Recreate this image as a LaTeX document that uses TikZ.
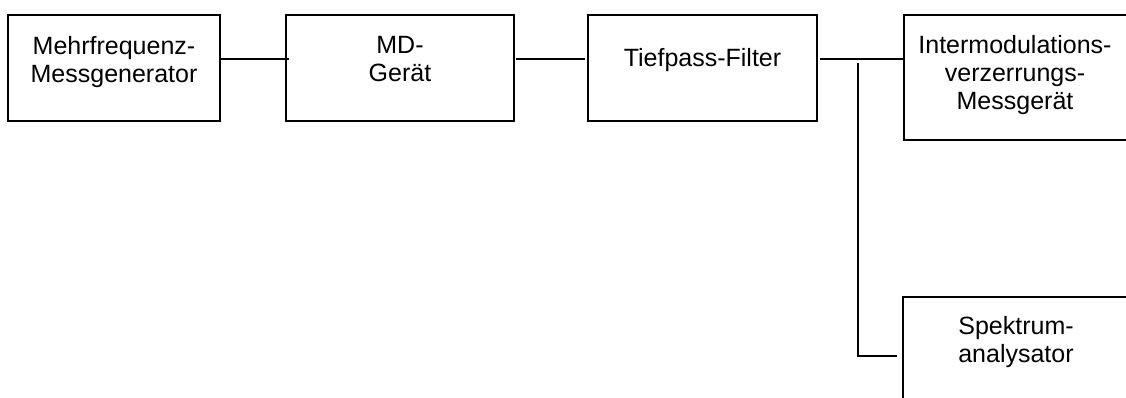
\documentclass[tikz,border=0pt]{standalone}
\usepackage{fontspec}
\setmainfont{Liberation Sans}
\begin{document}
\begin{tikzpicture}[x=1pt,y=-1pt,
  box/.style={draw, line width=1.8pt, inner sep=0pt, outer sep=0pt, anchor=north west},
  txt/.style={font=\fontsize{25}{28}\selectfont, align=center, inner sep=0pt, anchor=north},
  wire/.style={line width=1.3pt}]
\useasboundingbox (0,0) rectangle (1126,398);
\clip (0,0) rectangle (1126,398);
% boxes
\node[box, minimum width=212pt, minimum height=106pt] (b1) at (8,15) {};
\node[box, minimum width=228pt, minimum height=106pt] (b2) at (286,15) {};
\node[box, minimum width=229pt, minimum height=106pt] (b3) at (588,15) {};
\node[box, minimum width=224pt, minimum height=125pt] (b4) at (904,15) {};
\node[box, minimum width=224pt, minimum height=130pt] (b5) at (903,297) {};
% texts
\node[txt] (t1) at (114,36) {Mehrfrequenz-\\Messgenerator};
\node[txt] (t2) at (400,36) {MD-\\Gerät};
\node[txt] (t3) at (702.5,48) {Tiefpass-Filter};
\node[txt] (t4) at (1015,35) {Intermodulations-\\verzerrungs-\\Messgerät};
\node[txt] (t5) at (1016,316) {Spektrum-\\analysator};
% connectors
\draw[wire] ([yshift=-44pt]b1.north east) -- ([xshift=3pt,yshift=-44pt]b2.north west);
\draw[wire] ([xshift=2pt,yshift=-44pt]b2.north east) -- ([xshift=-3pt,yshift=-44pt]b3.north west);
\draw[wire] ([xshift=3pt,yshift=-44pt]b3.north east) -- ([yshift=-44pt]b4.north west);
\coordinate (j) at (858,63);
\draw[wire] (j) |- ([xshift=-6pt,yshift=-59pt]b5.north west);
\end{tikzpicture}
\end{document}
